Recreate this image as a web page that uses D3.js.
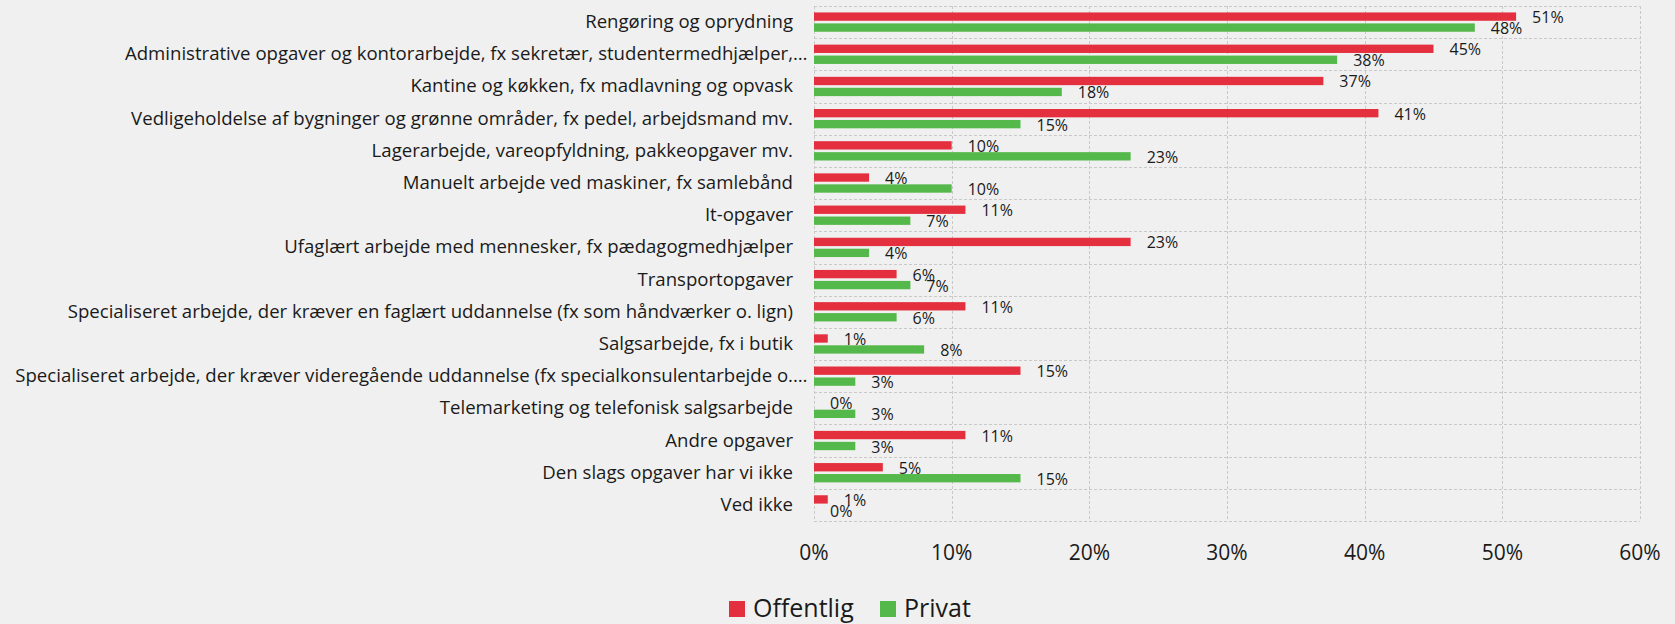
<!DOCTYPE html>
<html>
<head>
<meta charset="utf-8">
<script src="https://cdn.jsdelivr.net/npm/d3@7"></script>
<style>
  html, body { margin: 0; padding: 0; background: #f0f0f0; }
  svg { display: block; font-family: "Open Sans", "Segoe UI", sans-serif; }
</style>
</head>
<body>
<div id="chart"></div>
<script>
// Chart data
const categories = [
    "Rengøring og oprydning",
    "Administrative opgaver og kontorarbejde, fx sekretær, studentermedhjælper,…",
    "Kantine og køkken, fx madlavning og opvask",
    "Vedligeholdelse af bygninger og grønne områder, fx pedel, arbejdsmand mv.",
    "Lagerarbejde, vareopfyldning, pakkeopgaver mv.",
    "Manuelt arbejde ved maskiner, fx samlebånd",
    "It-opgaver",
    "Ufaglært arbejde med mennesker, fx pædagogmedhjælper",
    "Transportopgaver",
    "Specialiseret arbejde, der kræver en faglært uddannelse (fx som håndværker o. lign)",
    "Salgsarbejde, fx i butik",
    "Specialiseret arbejde, der kræver videregående uddannelse (fx specialkonsulentarbejde o.…",
    "Telemarketing og telefonisk salgsarbejde",
    "Andre opgaver",
    "Den slags opgaver har vi ikke",
    "Ved ikke"
];
const offentlig = [51, 45, 37, 41, 10, 4, 11, 23, 6, 11, 1, 15, 0, 11, 5, 1];
const privat    = [48, 38, 18, 15, 23, 10, 7, 4, 7, 6, 8, 3, 3, 3, 15, 0];
const seriesNames = ["Offentlig", "Privat"];
const seriesColors = ["#e4303e", "#55b84a"];
const xTicks = [0, 10, 20, 30, 40, 50, 60];

const width = 1675, height = 624;
const plot = {left: 814, right: 1640, top: 6, bottom: 521};

let svg = d3.select("#chart")
    .append("svg")
    .attr("width", width)
    .attr("height", height);

// scales
let x = d3.scaleLinear()
    .domain([0, 60])
    .range([plot.left, plot.right]);

let y = d3.scaleBand()
    .domain(categories)
    .range([plot.top, plot.bottom])
    .paddingInner(0.4)
    .paddingOuter(0.2);

let ySub = d3.scaleBand()
    .domain(seriesNames)
    .range([0, y.bandwidth()])
    .paddingInner(0.24);

// gridlines (dashed), vertical at each tick, horizontal at category boundaries
let grid = svg.append("g")
    .attr("stroke", "#c9c9c9")
    .attr("stroke-width", 1)
    .attr("stroke-dasharray", "3,2");

grid.selectAll("line.v")
    .data(xTicks)
    .enter()
    .append("line")
    .attr("x1", d => Math.round(x(d)) + 0.5)
    .attr("x2", d => Math.round(x(d)) + 0.5)
    .attr("y1", plot.top)
    .attr("y2", plot.bottom);

grid.selectAll("line.h")
    .data(d3.range(categories.length + 1))
    .enter()
    .append("line")
    .attr("x1", plot.left)
    .attr("x2", plot.right)
    .attr("y1", i => Math.round(plot.top + i * y.step()) + 0.5)
    .attr("y2", i => Math.round(plot.top + i * y.step()) + 0.5);

// one row of data per category
let rows = categories.map((c, i) => ({cat: c, values: [offentlig[i], privat[i]]}));

let groups = svg.selectAll("g.row")
    .data(rows)
    .enter()
    .append("g")
    .attr("class", "row")
    .attr("transform", d => `translate(0, ${y(d.cat)})`);

groups.selectAll("rect")
    .data(d => d.values.map((v, j) => ({name: seriesNames[j], value: v, color: seriesColors[j]})))
    .enter()
    .append("rect")
    .attr("x", x(0))
    .attr("y", d => ySub(d.name))
    .attr("width", d => x(d.value) - x(0))
    .attr("height", ySub.bandwidth())
    .attr("fill", d => d.color);

// value labels just right of each bar
groups.selectAll("text.val")
    .data(d => d.values.map((v, j) => ({name: seriesNames[j], value: v})))
    .enter()
    .append("text")
    .attr("class", "val")
    .attr("x", d => x(d.value) + 16)
    .attr("y", d => ySub(d.name) + ySub.bandwidth() / 2 + 6.5)
    .style("font-size", "16px")
    .style("fill", "#1a1a1a")
    .text(d => d.value + "%");

// category labels (truncated ones get their ellipsis hanging past the edge)
let labelX = plot.left - 21;
categories.forEach(function (c) {
    let cy = y(c) + y.bandwidth() / 2 + 6;
    let truncated = c.endsWith("…");
    svg.append("text")
        .attr("x", labelX)
        .attr("y", cy)
        .style("text-anchor", "end")
        .style("font-size", "18.6px")
        .style("fill", "#1a1a1a")
        .text(truncated ? c.slice(0, -1) : c);
    if (truncated) {
        svg.append("text")
            .attr("x", labelX)
            .attr("y", cy)
            .style("font-size", "18.6px")
            .style("fill", "#1a1a1a")
            .text("…");
    }
});

// x axis tick labels
svg.selectAll("text.tick")
    .data(xTicks)
    .enter()
    .append("text")
    .attr("class", "tick")
    .attr("x", d => x(d))
    .attr("y", 560)
    .style("text-anchor", "middle")
    .style("font-size", "21px")
    .style("fill", "#1a1a1a")
    .text(d => d + "%");

// legend
let legendX = [729, 880];
let legend = svg.selectAll("g.legend")
    .data(seriesNames)
    .enter()
    .append("g")
    .attr("class", "legend")
    .attr("transform", (d, i) => `translate(${legendX[i]}, 601)`);

legend.append("rect")
    .attr("width", 16)
    .attr("height", 16)
    .attr("fill", (d, i) => seriesColors[i]);

legend.append("text")
    .attr("x", 24)
    .attr("y", 16)
    .style("font-size", "25px")
    .style("fill", "#1a1a1a")
    .text(d => d);
</script>
</body>
</html>
